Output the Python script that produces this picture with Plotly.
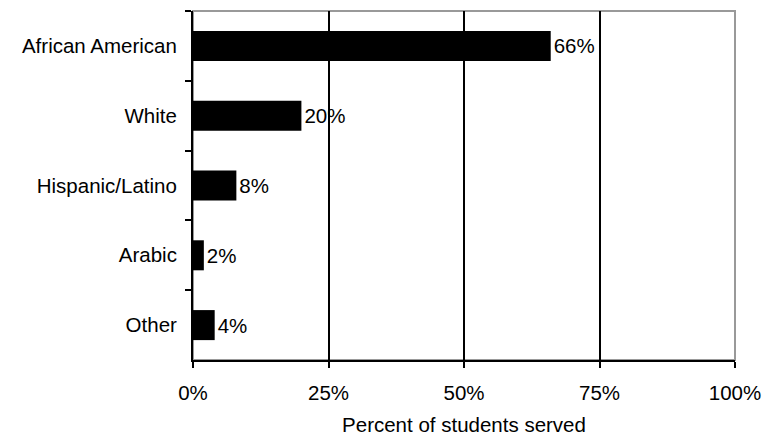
import plotly.graph_objects as go

categories = ["African American", "White", "Hispanic/Latino", "Arabic", "Other"]
values = [66, 20, 8, 2, 4]
labels = ["66%", "20%", "8%", "2%", "4%"]
x_ticks = [0, 25, 50, 75, 100]
x_tick_labels = ["0%", "25%", "50%", "75%", "100%"]

FS = 20.5

fig = go.Figure()
fig.add_trace(go.Bar(
    y=categories, x=values, orientation="h",
    marker=dict(color="black", line=dict(width=0)),
    width=0.43,
    text=labels, textposition="outside", cliponaxis=False,
    textfont=dict(family="Liberation Sans, Arial", size=FS, color="black"),
))

fig.update_layout(
    width=764, height=436,
    margin=dict(l=193, r=29, t=11, b=76, autoexpand=False),
    paper_bgcolor="white", plot_bgcolor="white",
    showlegend=False,
    font=dict(family="Liberation Sans, Arial", size=FS, color="black"),
    shapes=[dict(type="rect", xref="paper", yref="paper", x0=0, x1=1, y0=0, y1=1,
                 line=dict(color="#999999", width=2), layer="below")],
)
fig.update_xaxes(
    range=[0, 100], tickvals=x_ticks, ticktext=x_tick_labels,
    showgrid=True, gridcolor="black", gridwidth=2,
    showline=True, linecolor="black", linewidth=2,
    ticks="outside", ticklen=6, tickwidth=2, tickcolor="black",
    zeroline=False, automargin=False,
    title=dict(text="Percent of students served", standoff=18, font=dict(size=FS)),
    tickfont=dict(size=FS),
    ticklabelstandoff=7,
)
fig.update_yaxes(
    autorange="reversed", automargin=False,
    showline=True, linecolor="black", linewidth=2,
    ticks="outside", ticklen=6, tickwidth=2, tickcolor="black",
    tickson="boundaries", showgrid=False,
    tickfont=dict(size=FS),
    ticklabelstandoff=10,
)
fig.write_html("out.html")
